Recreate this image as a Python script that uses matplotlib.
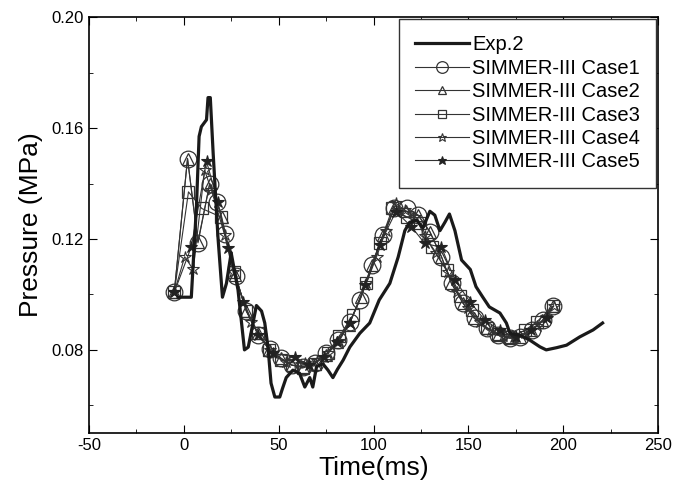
import matplotlib
matplotlib.use("Agg")
import matplotlib.pyplot as plt
from matplotlib.ticker import MultipleLocator

plt.rcParams['font.family'] = ['Liberation Sans', 'DejaVu Sans']
plt.rcParams['axes.unicode_minus'] = False

# Exp.2 measured pressure
exp_t = [-3, 4, 5.3, 6.7, 8.1, 9.3, 12, 12.8, 14, 15.5, 18, 20.4, 22.5, 25, 28.6,
         32, 34, 38.3, 41, 42.7, 44.4, 46, 48, 50.6, 52, 54, 57.5, 61, 63.8,
         66.4, 68, 70, 73.3, 76, 78.6, 81, 84, 87.5, 92.8, 98, 103, 108.6, 113,
         116.5, 119, 122.7, 126, 129.7, 132.3, 135, 137.6, 140, 142.9, 146.4,
         151, 154, 157.6, 161, 166.6, 170, 171.9, 177, 182.4, 187.7, 191, 196.5,
         201.7, 208.7, 215.7, 220.7]
exp_p = [0.099, 0.099, 0.115, 0.1317, 0.157, 0.1605, 0.163, 0.171, 0.171, 0.151,
         0.121, 0.099, 0.104, 0.115, 0.1016, 0.080, 0.081, 0.096, 0.094, 0.0897,
         0.081, 0.068, 0.063, 0.063, 0.066, 0.070, 0.0727, 0.0716, 0.0666, 0.070,
         0.0666, 0.074, 0.075, 0.0727, 0.070, 0.073, 0.0763, 0.081, 0.086, 0.0897,
         0.098, 0.104, 0.1135, 0.123, 0.126, 0.1268, 0.124, 0.130, 0.1286, 0.123,
         0.126, 0.129, 0.123, 0.1124, 0.109, 0.1028, 0.099, 0.0955, 0.0933, 0.0897,
         0.086, 0.0853, 0.0835, 0.0811, 0.080, 0.0808, 0.0817, 0.0847, 0.0872,
         0.0897]

# SIMMER-III cases
c1_t = [-5, 2, 7.5, 13.7, 17.7, 21.8, 27.4, 33, 39.2, 45.3, 51.5, 56.8, 62.9, 69,
        75.2, 81.3, 87.5, 92.8, 99, 105, 111, 117.4, 123.5, 129.7, 135.8, 141.1,
        147.2, 153.4, 159.6, 165.7, 171.9, 177, 183.3, 189.4, 194.7]
c1_p = [0.1007, 0.149, 0.1186, 0.140, 0.1334, 0.1218, 0.1066, 0.094, 0.0855,
        0.0805, 0.0769, 0.0745, 0.0739, 0.0751, 0.0787, 0.0835, 0.0901, 0.098,
        0.1106, 0.1214, 0.1310, 0.131, 0.1286, 0.1226, 0.1136, 0.104, 0.0968,
        0.0914, 0.0878, 0.0853, 0.0842, 0.0847, 0.0871, 0.0907, 0.0958]

c2_t = [-5, 2, 7.5, 13.7, 20, 27, 33, 39, 45, 51, 57, 63, 69, 75, 81, 87, 93.6,
        99, 105, 111, 117, 123.5, 129.7, 135.8, 141, 147, 153, 159.6, 165.7,
        171.9, 177, 183, 189, 194.7]
c2_p = [0.1007, 0.149, 0.119, 0.140, 0.128, 0.107, 0.094, 0.086, 0.080, 0.077,
        0.0745, 0.074, 0.075, 0.078, 0.083, 0.089, 0.0992, 0.1106, 0.1214, 0.131,
        0.130, 0.1286, 0.1226, 0.1136, 0.104, 0.097, 0.0914, 0.0878, 0.0853,
        0.0842, 0.0847, 0.0871, 0.0907, 0.0958]

c3_t = [-5, 2.5, 9.5, 19.4, 26.5, 33, 39, 45, 51, 57, 63, 69, 76, 82, 89.3, 96.3,
        103.3, 110, 117.4, 124.4, 130.6, 138.5, 145.5, 151.7, 159.6, 165.7, 172,
        179.8, 186, 194.7]
c3_p = [0.1007, 0.137, 0.131, 0.128, 0.108, 0.094, 0.086, 0.080, 0.0765, 0.0745,
        0.0735, 0.075, 0.079, 0.085, 0.0926, 0.104, 0.1184, 0.131, 0.128, 0.1257,
        0.117, 0.1088, 0.0994, 0.0944, 0.0878, 0.0859, 0.0845, 0.0871, 0.0901,
        0.0958]

c4_t = [-5, 0.5, 5, 11, 14.6, 21.6, 26, 35.7, 45.3, 54, 63.8, 70, 76, 81.9, 87.5,
        96.3, 101.6, 106.5, 111.8, 116.5, 122, 127, 133, 139, 144, 150, 156, 162,
        168, 174, 180, 186, 191, 195]
c4_p = [0.1007, 0.1136, 0.109, 0.1448, 0.1376, 0.1214, 0.108, 0.090, 0.080,
        0.0755, 0.0751, 0.076, 0.0787, 0.0832, 0.0897, 0.1042, 0.1136, 0.123,
        0.1328, 0.1304, 0.128, 0.121, 0.115, 0.108, 0.101, 0.095, 0.090, 0.087,
        0.085, 0.0845, 0.086, 0.0885, 0.092, 0.0958]

c5_t = [-5, 4, 12, 18, 23.4, 31.3, 39.2, 47, 58.5, 66, 74, 81, 87.5, 95.6, 103.3,
        111.8, 120, 127, 135.8, 142.9, 150.8, 158.7, 166.6, 175, 183, 191.2]
c5_p = [0.1007, 0.1172, 0.148, 0.1334, 0.1166, 0.0974, 0.0854, 0.0787, 0.0775,
        0.0745, 0.0775, 0.083, 0.0897, 0.1034, 0.118, 0.1299, 0.1244, 0.1184,
        0.117, 0.1052, 0.0974, 0.0907, 0.0871, 0.0845, 0.087, 0.0914]

fig = plt.figure(figsize=(6.73, 4.91), dpi=100)
ax = fig.add_axes([0.132, 0.118, 0.846, 0.847])

ax.plot(exp_t, exp_p, color='#1a1a1a', lw=2.3, label='Exp.2', zorder=3)
ax.plot(c1_t, c1_p, color='#333333', lw=0.8, marker='o', ms=12, mfc='none',
        mec='#333333', mew=0.9, label='SIMMER-III Case1')
ax.plot(c2_t, c2_p, color='#333333', lw=0.8, marker='^', ms=8, mfc='none',
        mec='#333333', mew=0.9, label='SIMMER-III Case2')
ax.plot(c3_t, c3_p, color='#333333', lw=0.8, marker='s', ms=9, mfc='none',
        mec='#333333', mew=0.9, label='SIMMER-III Case3')
ax.plot(c4_t, c4_p, color='#333333', lw=0.8, marker='*', ms=9, mfc='none',
        mec='#333333', mew=0.8, label='SIMMER-III Case4')
ax.plot(c5_t, c5_p, color='#333333', lw=0.8, marker='*', ms=9, mfc='#222222',
        mec='#222222', mew=0.8, label='SIMMER-III Case5')

ax.set_xlim(-50, 250)
ax.set_ylim(0.05, 0.20)
ax.xaxis.set_major_locator(MultipleLocator(50))
ax.xaxis.set_minor_locator(MultipleLocator(25))
ax.yaxis.set_minor_locator(MultipleLocator(0.02))
ax.set_yticks([0.08, 0.12, 0.16, 0.20])
ax.set_yticklabels(['0.08', '0.12', '0.16', '0.20'])
ax.tick_params(which='both', direction='in', top=True, right=True, labelsize=12)
ax.tick_params(which='major', length=6)
ax.tick_params(which='minor', length=3)
for s in ax.spines.values():
    s.set_linewidth(1.2)

ax.set_xlabel('Time(ms)', fontsize=19, labelpad=2)
ax.set_ylabel('Pressure (MPa)', fontsize=19, labelpad=6)

leg = ax.legend(loc='upper right', fontsize=14.5, frameon=True, fancybox=False,
                edgecolor='#333333', framealpha=1, borderaxespad=0.1,
                handlelength=2.7, handletextpad=0.15, labelspacing=0.22,
                markerscale=0.7, borderpad=0.8)
leg.get_frame().set_linewidth(1.0)

fig.savefig('out.png', dpi=100)
